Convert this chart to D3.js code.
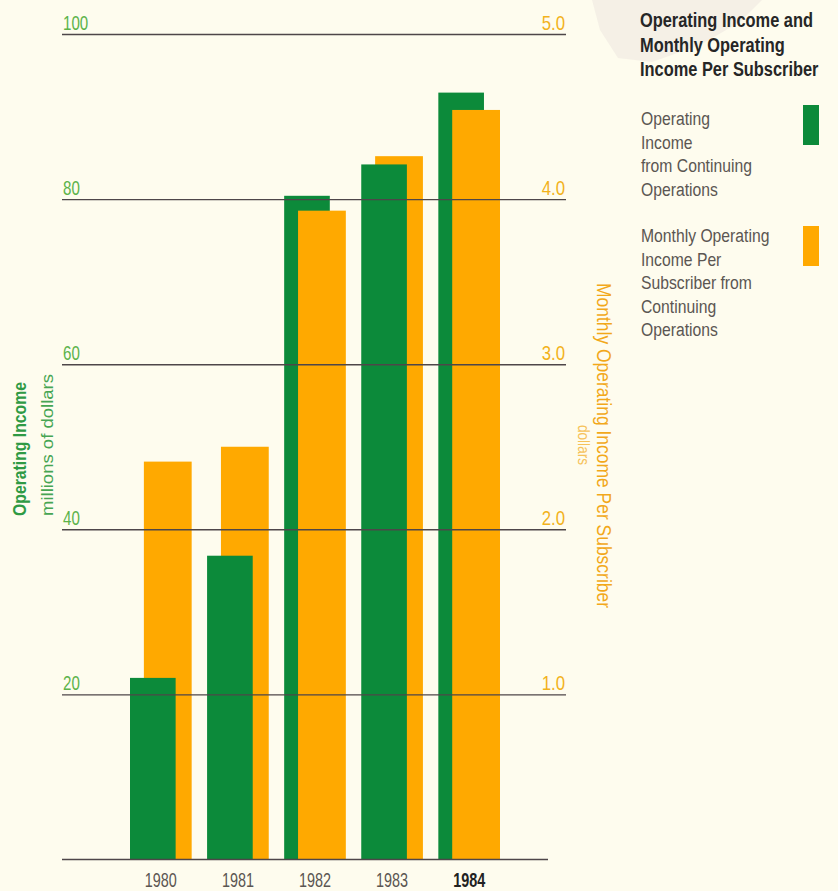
<!DOCTYPE html>
<html>
<head>
<meta charset="utf-8">
<script src="https://cdn.jsdelivr.net/npm/d3@7"></script>
<style>
  body { margin: 0; background: #fefcee; }
  svg { display: block; }
  text { font-family: "Liberation Sans", Arial, sans-serif; }
</style>
</head>
<body>
<svg id="chart" width="838" height="891"></svg>
<script>
// Operating income (millions of dollars) and monthly operating income per subscriber (dollars)
const years = ["1980", "1981", "1982", "1983", "1984"];
const operatingIncome = [22.0, 36.8, 80.4, 84.2, 92.9];
const incomePerSubscriber = [2.41, 2.50, 3.93, 4.26, 4.54];
const leftTicks = [20, 40, 60, 80, 100];
const rightTicks = [1.0, 2.0, 3.0, 4.0, 5.0];
const titleLines = ["Operating Income and", "Monthly Operating", "Income Per Subscriber"];
const legendItems = [
  { key: "income", lines: ["Operating", "Income", "from Continuing", "Operations"] },
  { key: "perSub", lines: ["Monthly Operating", "Income Per", "Subscriber from", "Continuing", "Operations"] }
];

const GREEN = "#0c8a3a";
const ORANGE = "#ffa900";
const GRID = "#4e4649";

const svg = d3.select("#chart");

// faint paper shading behind the heading
svg.append("path")
  .attr("d", "M592,0 L762,0 L740,22 L700,45 L652,62 L618,58 L600,30 Z")
  .attr("fill", "#f1ebe2").attr("opacity", 0.7);

const plotLeft = 62, plotRight = 566, baseRight = 548;
const yLeft = d3.scaleLinear().domain([0, 100]).range([859.5, 34]);
const yRight = d3.scaleLinear().domain([0, 5]).range([859.5, 34]);
const x = d3.scaleBand().domain(years).range([130, 500]).paddingInner(0.2).paddingOuter(0);

const bw = x.bandwidth();
const greenW = bw * 0.74, orangeOff = bw * 0.225, orangeW = bw * 0.775;

// squeeze text horizontally to imitate a condensed face
function condense(sel, k) {
  sel.each(function () {
    const w = this.getComputedTextLength();
    d3.select(this).attr("textLength", w * k).attr("lengthAdjust", "spacingAndGlyphs");
  });
}

// bars: per year, the shorter bar sits in front of the taller one
const barData = years.map((yr, i) => {
  const g = { year: yr, color: GREEN, x0: x(yr), w: greenW, top: yLeft(operatingIncome[i]) };
  const o = { year: yr, color: ORANGE, x0: x(yr) + orangeOff, w: orangeW, top: yRight(incomePerSubscriber[i]) };
  return g.top < o.top ? [g, o] : [o, g];
}).flat();

svg.append("g").selectAll("rect").data(barData).join("rect")
  .attr("x", d => d.x0)
  .attr("width", d => d.w)
  .attr("y", d => d.top)
  .attr("height", d => yLeft(0) - d.top)
  .attr("fill", d => d.color);

// gridlines + left tick labels
const leftAxis = svg.append("g")
  .attr("transform", `translate(${plotLeft},0)`)
  .call(d3.axisLeft(yLeft).tickValues(leftTicks).tickSize(-(plotRight - plotLeft)).tickFormat(d3.format("d")));
leftAxis.select(".domain").remove();
leftAxis.selectAll(".tick line").attr("stroke", GRID).attr("stroke-width", 1.4);
leftAxis.selectAll(".tick text")
  .attr("x", 1).attr("dy", -5).attr("text-anchor", "start")
  .attr("fill", "#5cb34a").attr("font-size", 21)
  .style("font-family", "'Liberation Sans', sans-serif")
  .call(condense, 0.72);

// baseline
svg.append("line")
  .attr("x1", plotLeft).attr("x2", baseRight)
  .attr("y1", yLeft(0)).attr("y2", yLeft(0))
  .attr("stroke", GRID).attr("stroke-width", 1.4);

// right tick labels
const rightAxis = svg.append("g")
  .attr("transform", `translate(${plotRight},0)`)
  .call(d3.axisRight(yRight).tickValues(rightTicks).tickSize(0).tickFormat(d3.format(".1f")));
rightAxis.select(".domain").remove();
rightAxis.selectAll(".tick text")
  .attr("x", -1).attr("dy", -5).attr("text-anchor", "end")
  .attr("fill", "#f2b21c").attr("font-size", 21)
  .style("font-family", "'Liberation Sans', sans-serif")
  .call(condense, 0.8);

// year labels
const xAxis = svg.append("g")
  .attr("transform", `translate(0,${yLeft(0)})`)
  .call(d3.axisBottom(x).tickSize(0));
xAxis.select(".domain").remove();
xAxis.selectAll(".tick")
  .attr("transform", d => `translate(${x(d) + bw / 2},0)`);
xAxis.selectAll(".tick text")
  .attr("y", 27).attr("dy", 0)
  .attr("font-size", 20)
  .style("font-family", "'Liberation Sans', sans-serif")
  .attr("font-weight", d => d === "1984" ? "bold" : "normal")
  .attr("fill", d => d === "1984" ? "#222" : "#5b5652")
  .call(condense, 0.72);

// left axis title
svg.append("text")
  .attr("transform", "translate(26,516) rotate(-90)")
  .attr("font-size", 19).attr("font-weight", "bold").attr("fill", "#2f9a44")
  .attr("textLength", 134).attr("lengthAdjust", "spacingAndGlyphs")
  .text("Operating Income");
svg.append("text")
  .attr("transform", "translate(53,516) rotate(-90)")
  .attr("font-size", 17).attr("fill", "#46a552")
  .attr("textLength", 142).attr("lengthAdjust", "spacingAndGlyphs")
  .text("millions of dollars");

// right axis title
svg.append("text")
  .attr("transform", "translate(597,283) rotate(90)")
  .attr("font-size", 20).attr("fill", "#f2a81a")
  .attr("textLength", 325).attr("lengthAdjust", "spacingAndGlyphs")
  .text("Monthly Operating Income Per Subscriber");
svg.append("text")
  .attr("transform", "translate(578,445) rotate(90) scale(0.85,1)")
  .attr("font-size", 16).attr("fill", "#f6c25a").attr("text-anchor", "middle")
  .text("dollars");

// legend title (narrowed with a horizontal scale)
svg.append("g").selectAll("text").data(titleLines).join("text")
  .attr("transform", (d, i) => `translate(640,${27 + i * 24.5}) scale(0.8,1)`)
  .attr("font-size", 20.5).attr("font-weight", "bold").attr("fill", "#262626")
  .text(d => d);

// legend entries
const legendTop = [125, 242];
const swatchTop = [105, 226];
const legend = svg.append("g");
legendItems.forEach((item, k) => {
  legend.append("rect")
    .attr("x", 803).attr("y", swatchTop[k]).attr("width", 16).attr("height", 40)
    .attr("fill", item.key === "income" ? GREEN : ORANGE);
  legend.append("g").selectAll("text").data(item.lines).join("text")
    .attr("transform", (d, i) => `translate(641,${legendTop[k] + i * 23.5}) scale(0.85,1)`)
    .attr("font-size", 18.5).attr("fill", "#5b5652")
    .text(d => d);
});
</script>
</body>
</html>
